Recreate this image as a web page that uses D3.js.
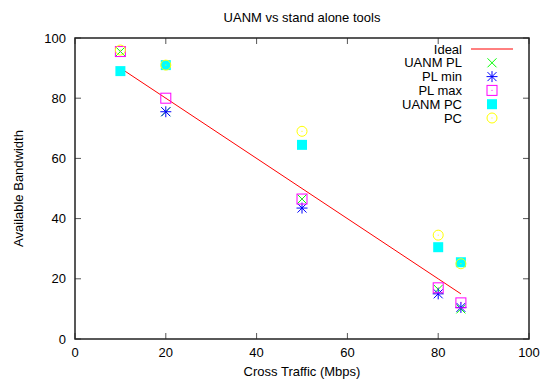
<!DOCTYPE html>
<html><head><meta charset="utf-8">
<script src="https://cdn.jsdelivr.net/npm/d3@7"></script>
<style>body{margin:0;background:#fff}svg{display:block}text{font-family:"Liberation Sans",Arial,Helvetica,sans-serif;fill:#000}</style>
</head><body>
<script>
const crossTraffic = [10, 20, 50, 80, 85];
const ideal  = [90, 80, 50, 20, 15];
const uanmPL = [95.5, 75.5, 46.5, 16.5, 10];
const plMin  = [null, 75.5, 43.5, 15, 10.5];
const plMax  = [95.5, 80, 46.5, 17, 12];
const uanmPC = [89, 91, 64.5, 30.5, 25.5];
const pc     = [96, 91, 69, 34.5, 25];
const xTicks = [0, 20, 40, 60, 80, 100];
const yTicks = [0, 20, 40, 60, 80, 100];

const W = 543, H = 381;
const m = {l: 75, r: 14, t: 38, b: 42};
const svg = d3.select("body").append("svg").attr("width", W).attr("height", H);
const x = d3.scaleLinear().domain([0, 100]).range([m.l, W - m.r]);
const y = d3.scaleLinear().domain([0, 100]).range([H - m.b, m.t]);

// ticks (mirrored, inward)
const tl = 6;
const g = svg.append("g");
xTicks.forEach(t => {
  g.append("line").attr("x1", x(t)).attr("x2", x(t)).attr("y1", y(0)).attr("y2", y(0) - tl).attr("stroke", "#555");
  g.append("line").attr("x1", x(t)).attr("x2", x(t)).attr("y1", y(100)).attr("y2", y(100) + tl).attr("stroke", "#555");
  g.append("text").attr("x", x(t)).attr("y", y(0) + 18).attr("text-anchor", "middle").attr("font-size", 13).text(t);
});
yTicks.forEach(t => {
  g.append("line").attr("x1", x(0)).attr("x2", x(0) + tl).attr("y1", y(t)).attr("y2", y(t)).attr("stroke", "#555");
  g.append("line").attr("x1", x(100)).attr("x2", x(100) - tl).attr("y1", y(t)).attr("y2", y(t)).attr("stroke", "#555");
  g.append("text").attr("x", x(0) - 9).attr("y", y(t) + 4.5).attr("text-anchor", "end").attr("font-size", 13).text(t);
});
svg.append("rect").attr("x", x(0)).attr("y", y(100)).attr("width", x(100) - x(0)).attr("height", y(0) - y(100))
  .attr("fill", "none").attr("stroke", "#222").attr("stroke-width", 1.5);

svg.append("text").attr("x", (x(0) + x(100)) / 2).attr("y", 22).attr("text-anchor", "middle").attr("font-size", 13).text("UANM vs stand alone tools");
svg.append("text").attr("x", (x(0) + x(100)) / 2).attr("y", 376).attr("text-anchor", "middle").attr("font-size", 13).text("Cross Traffic (Mbps)");
svg.append("text").attr("transform", `translate(23,${(y(0) + y(100)) / 2}) rotate(-90)`).attr("text-anchor", "middle").attr("font-size", 13).text("Available Bandwidth");

// marker drawers
const mk = {
  cross: (s, cx, cy, c) => { const r = 4.5; s.append("path").attr("d", `M${cx-r},${cy-r}L${cx+r},${cy+r}M${cx-r},${cy+r}L${cx+r},${cy-r}`).attr("stroke", c).attr("fill", "none"); },
  star: (s, cx, cy, c) => { const r = 4.5; s.append("path").attr("d", `M${cx-r},${cy-r}L${cx+r},${cy+r}M${cx-r},${cy+r}L${cx+r},${cy-r}M${cx},${cy-r-1}L${cx},${cy+r+1}M${cx-r-1},${cy}L${cx+r+1},${cy}`).attr("stroke", c).attr("fill", "none"); },
  box: (s, cx, cy, c) => { const r = 5; s.append("rect").attr("x", cx-r).attr("y", cy-r).attr("width", 2*r).attr("height", 2*r).attr("stroke", c).attr("fill", "none");
    s.append("rect").attr("x", cx-0.5).attr("y", cy-0.5).attr("width", 1).attr("height", 1).attr("fill", c); },
  fbox: (s, cx, cy, c) => { const r = 5; s.append("rect").attr("x", cx-r).attr("y", cy-r).attr("width", 2*r).attr("height", 2*r).attr("fill", c); },
  circ: (s, cx, cy, c) => { s.append("circle").attr("cx", cx).attr("cy", cy).attr("r", 5).attr("stroke", c).attr("fill", "none");
    s.append("rect").attr("x", cx-0.5).attr("y", cy-0.5).attr("width", 1).attr("height", 1).attr("fill", c); }
};

const series = [
  {name: "UANM PL", vals: uanmPL, color: "#00ff00", m: "cross"},
  {name: "PL min", vals: plMin, color: "#0000ff", m: "star"},
  {name: "PL max", vals: plMax, color: "#ff00ff", m: "box"},
  {name: "UANM PC", vals: uanmPC, color: "#00ffff", m: "fbox"},
  {name: "PC", vals: pc, color: "#ffff00", m: "circ"}
];

// ideal line
const line = d3.line().x((d, i) => x(crossTraffic[i])).y(d => y(d));
svg.append("path").attr("d", line(ideal)).attr("stroke", "#ff0000").attr("fill", "none");

const pts = svg.append("g");
series.forEach(s => {
  s.vals.forEach((v, i) => { if (v != null) mk[s.m](pts, x(crossTraffic[i]), y(v), s.color); });
});

// legend
const lg = svg.append("g");
const lx = 462, ly0 = 49, dy = 13.8;
lg.append("text").attr("x", lx).attr("y", ly0 + 4.5).attr("text-anchor", "end").attr("font-size", 13).text("Ideal");
lg.append("line").attr("x1", 471).attr("x2", 513).attr("y1", ly0).attr("y2", ly0).attr("stroke", "#ff0000");
series.forEach((s, i) => {
  const yy = ly0 + dy * (i + 1);
  lg.append("text").attr("x", lx).attr("y", yy + 4.5).attr("text-anchor", "end").attr("font-size", 13).text(s.name);
  mk[s.m](lg, 492, yy, s.color);
});
</script>
</body></html>
